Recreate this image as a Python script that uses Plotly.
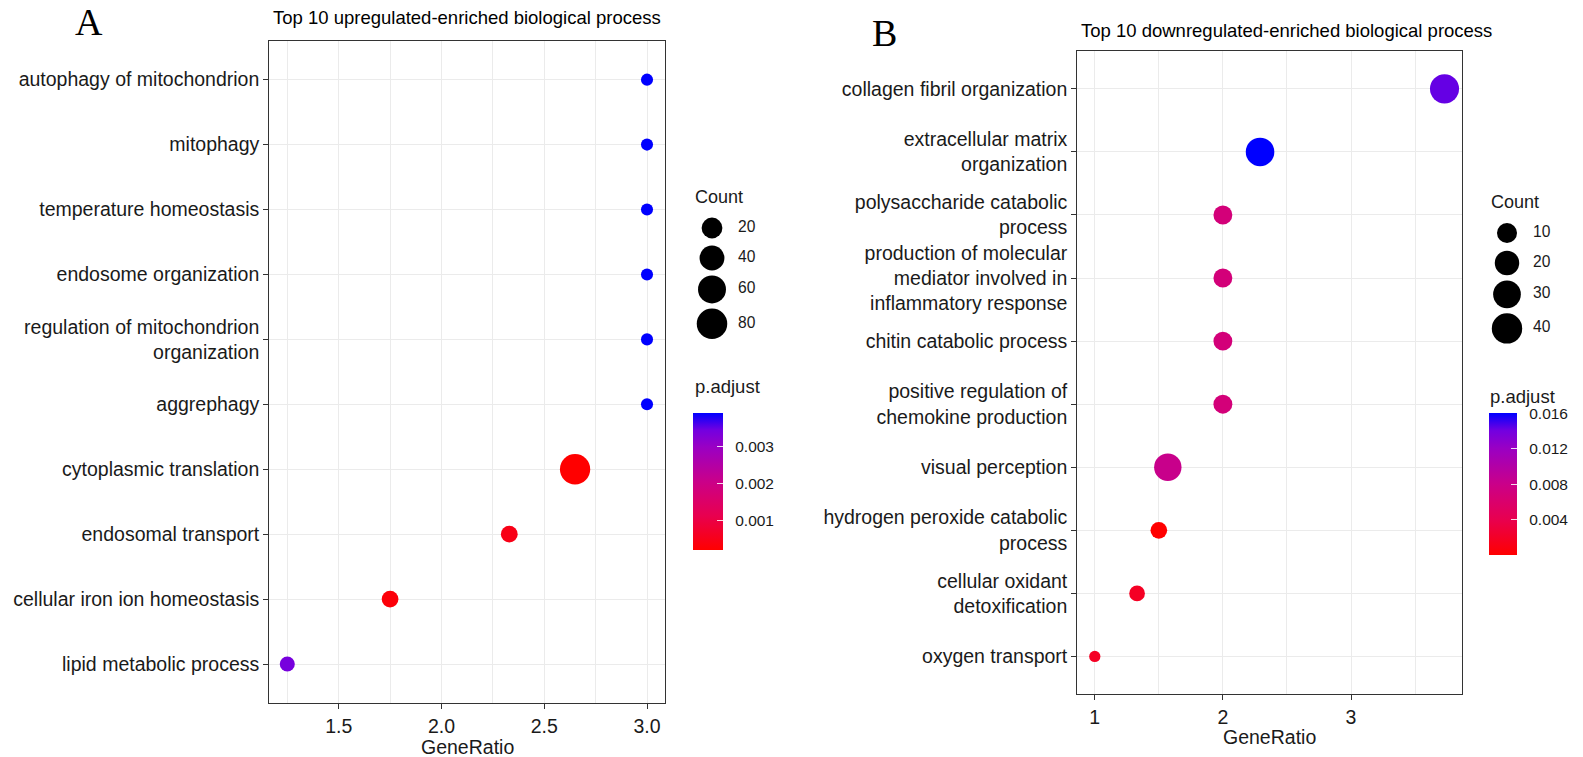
import numpy as np
import plotly.graph_objects as go

# ---------------- data ----------------
terms_a = [
    "autophagy of mitochondrion", "mitophagy", "temperature homeostasis",
    "endosome organization", "regulation of mitochondrion<br>organization",
    "aggrephagy", "cytoplasmic translation", "endosomal transport",
    "cellular iron ion homeostasis", "lipid metabolic process",
]
ratio_a = [3.0, 3.0, 3.0, 3.0, 3.0, 3.0, 2.65, 2.33, 1.75, 1.25]
count_a = [3, 3, 3, 3, 3, 3, 78, 8, 8, 5]
padj_a = [0.00388, 0.00388, 0.00388, 0.00388, 0.00388, 0.00388,
          0.00021, 0.00047, 0.00032, 0.00337]

terms_b = [
    "collagen fibril organization", "extracellular matrix<br>organization",
    "polysaccharide catabolic<br>process",
    "production of molecular<br>mediator involved in<br>inflammatory response",
    "chitin catabolic process", "positive regulation of<br>chemokine production",
    "visual perception", "hydrogen peroxide catabolic<br>process",
    "cellular oxidant<br>detoxification", "oxygen transport",
]
ratio_b = [3.73, 2.29, 2.0, 2.0, 2.0, 2.0, 1.57, 1.5, 1.33, 1.0]
count_b = [35, 33, 8, 8, 8, 8, 29, 5, 4, 2]
padj_b = [0.0143, 0.01606, 0.0070, 0.0070, 0.0070, 0.0070, 0.0082,
          0.00008, 0.0019, 0.0019]

count_breaks_a = [20, 40, 60, 80]
count_breaks_b = [10, 20, 30, 40]
cbar_ticks_a = [0.001, 0.002, 0.003]
cbar_ticks_b = [0.004, 0.008, 0.012, 0.016]

title_a = "Top 10 upregulated-enriched biological process"
title_b = "Top 10 downregulated-enriched biological process"

# ---------------- style ----------------
W, H = 1583, 757
FONT = "Liberation Sans, Arial, sans-serif"
TXT = "#1a1a1a"
GRID = "#EBEBEB"
# ggplot-like red->blue gradient (Lab interpolation approximated)
CSCALE = [[0.0, "#FF0000"], [0.25, "#E8004F"], [0.375, "#DA006C"],
          [0.5, "#CA0089"], [0.75, "#9A00C3"], [0.875, "#7300E0"],
          [1.0, "#0000FF"]]
NB = "\u00a0"


def px_x(p):
    return p / W


def px_y(p):
    return 1 - p / H


def size_scale(counts, cmin, dmin, k):
    return [dmin + k * np.sqrt(max(c - cmin, 0)) for c in counts]


def key_centers(diams, start):
    h = [max(30.0, d + 5.0) for d in diams]
    cs = [start + h[0] / 2]
    for i in range(1, len(h)):
        cs.append(cs[-1] + (h[i - 1] + h[i]) / 2)
    return cs


panels = [
    dict(terms=terms_a, ratio=ratio_a, count=count_a, padj=padj_a,
         breaks=count_breaks_a, cticks=cbar_ticks_a, title=title_a, letter="A",
         dom_x=(269.3, 665.0), dom_y=(40.7, 703.0), dmin=12.1, k=2.1,
         xticks=[1.5, 2.0, 2.5, 3.0], xtickfmt=".1f", xminor=0.25,
         letter_pos=(89, 22), title_pos=(270.7, 18), xlabel_y=746.7,
         count_title=(693, 197), key_x=712, key_lab_x=738,
         padj_title=(692.7, 386.7), cbar_x=692.7, cbar_top=413.3,
         cbar_len=136.7, cbar_th=29.6),
    dict(terms=terms_b, ratio=ratio_b, count=count_b, padj=padj_b,
         breaks=count_breaks_b, cticks=cbar_ticks_b, title=title_b, letter="B",
         dom_x=(1077.3, 1462.0), dom_y=(51.0, 694.3), dmin=11.3, k=3.1,
         xticks=[1, 2, 3], xtickfmt="d", xminor=0.5,
         letter_pos=(884, 33), title_pos=(1079, 30), xlabel_y=736.7,
         count_title=(1489, 202), key_x=1507, key_lab_x=1533,
         padj_title=(1488, 396.7), cbar_x=1489, cbar_top=412.7,
         cbar_len=142.3, cbar_th=28.3),
]

fig = go.Figure()
annotations = []
layout_axes = {}

for i, P in enumerate(panels):
    n = i + 1
    ax = "" if n == 1 else str(n)
    lx = 2 + 2 * i + 1  # legend axes index
    cmin_c = min(P["count"])
    diam = size_scale(P["count"], cmin_c, P["dmin"], P["k"])
    pmin, pmax = min(P["padj"]), max(P["padj"])
    cb_len = P["cbar_len"]

    fig.add_trace(go.Scatter(
        x=P["ratio"], y=P["terms"], mode="markers",
        xaxis="x" + ax, yaxis="y" + ax, showlegend=False, cliponaxis=False,
        marker=dict(size=diam, color=P["padj"], colorscale=CSCALE,
                    cmin=pmin, cmax=pmax, opacity=1, line=dict(width=0),
                    colorbar=dict(
                        x=px_x(P["cbar_x"]), xanchor="left", xpad=0,
                        y=px_y(P["cbar_top"]), yanchor="top", ypad=0,
                        len=cb_len, lenmode="pixels",
                        thickness=P["cbar_th"], thicknessmode="pixels",
                        outlinewidth=0, tickvals=P["cticks"],
                        ticktext=[NB + NB + f"{t:.3f}" for t in P["cticks"]],
                        ticks="inside", ticklen=6, tickwidth=1.2,
                        tickcolor="rgba(255,255,255,0.85)",
                        tickfont=dict(family=FONT, size=15.5, color=TXT),
                    )),
    ))

    xr0, xr1 = min(P["ratio"]), max(P["ratio"])
    pad = 0.05 * (xr1 - xr0)
    layout_axes["xaxis" + ax] = dict(
        domain=[px_x(P["dom_x"][0]), px_x(P["dom_x"][1])],
        anchor="y" + ax, range=[xr0 - pad, xr1 + pad],
        tickvals=P["xticks"], tickformat=P["xtickfmt"],
        showgrid=True, gridcolor=GRID, gridwidth=1.1,
        minor=dict(dtick=P["xminor"], showgrid=True, gridcolor=GRID,
                   gridwidth=0.6, ticks=""),
        showline=True, linecolor="#333333", linewidth=1.2, mirror=True,
        ticks="outside", ticklen=5, tickwidth=1.1, tickcolor="#333333",
        tickfont=dict(family=FONT, size=19.5, color=TXT), zeroline=False,
    )
    layout_axes["yaxis" + ax] = dict(
        domain=[px_y(P["dom_y"][1]), px_y(P["dom_y"][0])],
        anchor="x" + ax, type="category",
        categoryorder="array", categoryarray=P["terms"][::-1],
        range=[-0.6, len(P["terms"]) - 1 + 0.6],
        showgrid=True, gridcolor=GRID, gridwidth=1.1,
        showline=True, linecolor="#333333", linewidth=1.2, mirror=True,
        ticks="outside", ticklen=5, tickwidth=1.1, tickcolor="#333333",
        tickfont=dict(family=FONT, size=19.5, color=TXT), zeroline=False,
    )

    # size legend (in a pixel-unit helper axis)
    lxs, lys = str(lx), str(lx)
    x0, x1 = P["count_title"][0] - 30, P["count_title"][0] + 90
    y0, y1 = P["count_title"][1] - 20, P["count_title"][1] + 160
    layout_axes["xaxis" + lxs] = dict(domain=[px_x(x0), px_x(x1)], range=[x0, x1],
                                      anchor="y" + lys, visible=False, fixedrange=True)
    layout_axes["yaxis" + lys] = dict(domain=[px_y(y1), px_y(y0)], range=[y1, y0],
                                      anchor="x" + lxs, visible=False, fixedrange=True)
    kd = size_scale(P["breaks"], cmin_c, P["dmin"], P["k"])
    kc = key_centers(kd, P["count_title"][1] + 16)
    fig.add_trace(go.Scatter(
        x=[P["key_x"]] * len(kd), y=kc, mode="markers", xaxis="x" + lxs,
        yaxis="y" + lys, showlegend=False, cliponaxis=False, hoverinfo="skip",
        marker=dict(size=kd, color="#000000", opacity=1, line=dict(width=0))))
    fig.add_trace(go.Scatter(
        x=[P["key_lab_x"]] * len(kd), y=kc, mode="text", xaxis="x" + lxs,
        yaxis="y" + lys, showlegend=False, cliponaxis=False, hoverinfo="skip",
        text=[str(b) for b in P["breaks"]], textposition="middle right",
        textfont=dict(family=FONT, size=15.6, color=TXT)))

    # texts
    annotations += [
        dict(text=P["letter"], x=px_x(P["letter_pos"][0]), y=px_y(P["letter_pos"][1]),
             xref="paper", yref="paper", xanchor="center", yanchor="middle",
             showarrow=False, font=dict(family="Liberation Serif, Times New Roman, serif",
                                        size=38, color="black")),
        dict(text=P["title"], x=px_x(P["title_pos"][0]), y=px_y(P["title_pos"][1]),
             xref="paper", yref="paper", xanchor="left", yanchor="middle",
             showarrow=False, font=dict(family=FONT, size=18.5, color="black")),
        dict(text="GeneRatio", x=px_x((P["dom_x"][0] + P["dom_x"][1]) / 2),
             y=px_y(P["xlabel_y"]), xref="paper", yref="paper", xanchor="center",
             yanchor="middle", showarrow=False,
             font=dict(family=FONT, size=19.5, color=TXT)),
        dict(text="Count", x=px_x(P["count_title"][0]), y=px_y(P["count_title"][1]),
             xref="paper", yref="paper", xanchor="left", yanchor="middle",
             showarrow=False, font=dict(family=FONT, size=18, color=TXT)),
        dict(text="p.adjust", x=px_x(P["padj_title"][0]), y=px_y(P["padj_title"][1]),
             xref="paper", yref="paper", xanchor="left", yanchor="middle",
             showarrow=False, font=dict(family=FONT, size=18.5, color=TXT)),
    ]

fig.update_layout(
    width=W, height=H, margin=dict(l=0, r=0, t=0, b=0),
    paper_bgcolor="white", plot_bgcolor="rgba(0,0,0,0)",
    font=dict(family=FONT, color=TXT), annotations=annotations,
    showlegend=False, **layout_axes,
)

fig.write_html(
    "out.html",
    config={"displayModeBar": False},
    post_script="document.body.style.margin='0px';document.body.style.padding='0px';"
                "document.body.style.overflow='hidden';",
)
